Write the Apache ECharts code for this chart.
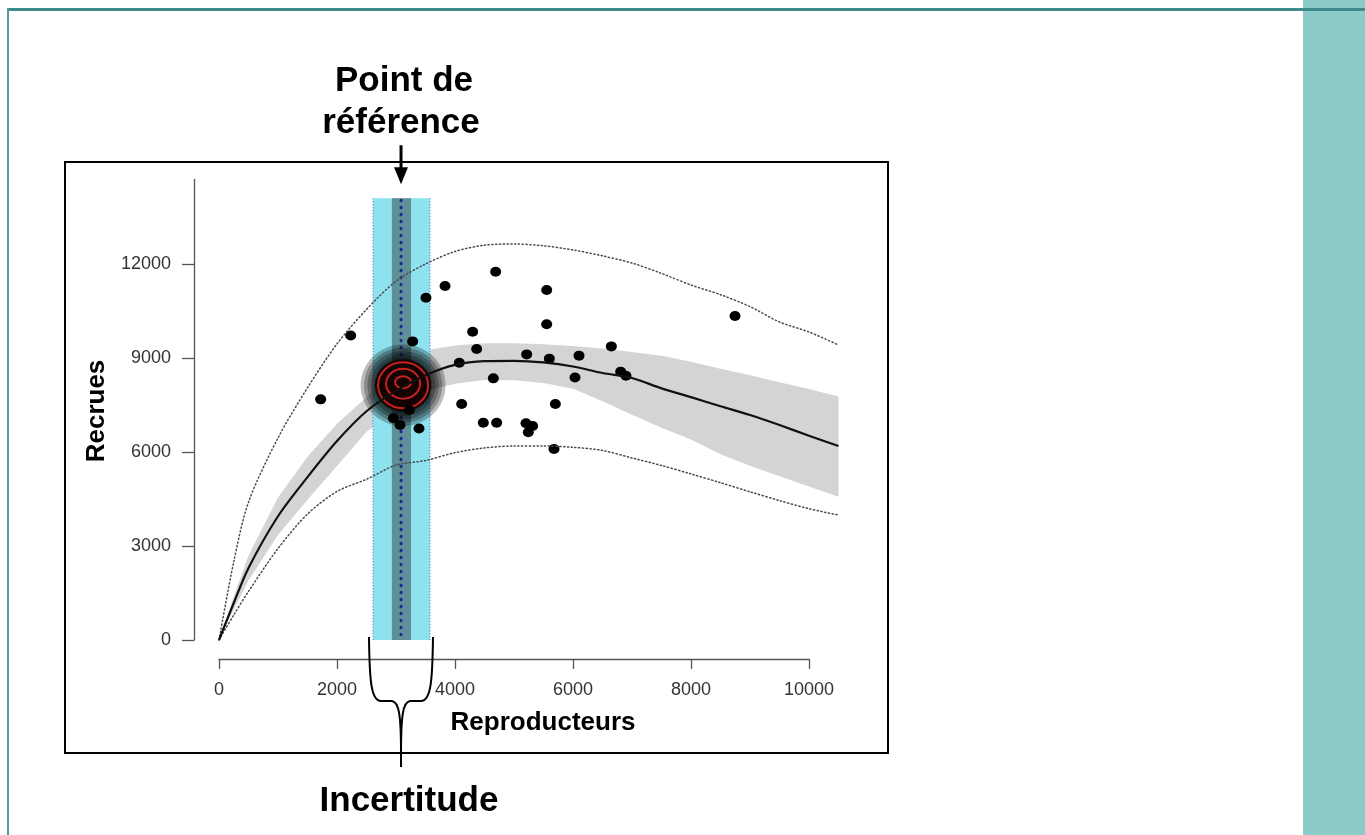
<!DOCTYPE html>
<html>
<head>
<meta charset="utf-8">
<script src="https://cdn.jsdelivr.net/npm/echarts@6/dist/echarts.min.js"></script>
<style>
html,body{margin:0;padding:0;background:#fff;}
#c{width:1365px;height:835px;}
</style>
</head>
<body>
<div id="c"></div>
<script>
// ---------------- data ----------------
const xTicks = [0, 2000, 4000, 6000, 8000, 10000];
const yTicks = [0, 3000, 6000, 9000, 12000];

// Reproducteurs (spawners) grid of the fitted curves
const spawners = [0, 250, 500, 1000, 1500, 2000, 2500, 3000, 3500, 4000, 4500, 5000, 5500, 6000, 6500, 7000, 7500, 8000, 8500, 9000, 9500, 10000, 10500];
// median recruitment curve
const median   = [0, 1180, 2300, 3950, 5200, 6350, 7300, 7950, 8450, 8780, 8900, 8910, 8860, 8730, 8520, 8360, 8030, 7750, 7460, 7180, 6860, 6520, 6190];
// credible interval (grey band)
const ciUpper  = [0, 1380, 2700, 4550, 5850, 6900, 7750, 8600, 9250, 9400, 9470, 9470, 9440, 9380, 9300, 9190, 9070, 8880, 8660, 8450, 8230, 8010, 7770];
const ciLower  = [0, 970, 1900, 3350, 4480, 5550, 6650, 7300, 7950, 8180, 8300, 8290, 8200, 8020, 7620, 7190, 6770, 6400, 5930, 5560, 5230, 4900, 4570];
// predictive interval (dotted lines)
const piUpper  = [0, 2500, 4400, 6450, 8050, 9450, 10550, 11450, 12000, 12400, 12600, 12640, 12580, 12450, 12260, 12030, 11700, 11330, 11020, 10640, 10150, 9830, 9415];
const piLower  = [0, 800, 1550, 2920, 4020, 4740, 5130, 5580, 5730, 5980, 6130, 6190, 6190, 6150, 6050, 5810, 5570, 5300, 5020, 4730, 4450, 4190, 3990];

// observed stock-recruitment pairs
const obsS = [1723, 2232, 2955, 3068, 3225, 3282, 3390, 3508, 3831, 4073, 4113, 4299, 4367, 4480, 4650, 4689, 4706, 5203, 5215, 5243, 5316, 5554, 5554, 5599, 5678, 5701, 6034, 6102, 6650, 6808, 6898, 8746];
const obsR = [7680, 9720, 7075, 6860, 7340, 9530, 6750, 10925, 11300, 8850, 7530, 9840, 9290, 6935, 8350, 11755, 6935, 6915, 9115, 6630, 6830, 11170, 10075, 8980, 6095, 7530, 8375, 9075, 9370, 8565, 8435, 10340];

// reference point and its uncertainty
const refPoint    = 3085;
const uncertainty = [2610, 3576];
const innerRange  = [2930, 3255];
const bandTop     = 14100;

// posterior cloud and contour levels (data units)
const cloudCenter = [3120, 8130];
const cloudRadius = [720, 1300];
const contourRx   = [424, 288, 136];
const contourRy   = [734, 479, 191];

// ---------------- chart ----------------
const FONT = '"Liberation Sans", Arial, Helvetica, sans-serif';
const zip = (a, b) => a.map((v, i) => [v, b[i]]);
const chart = echarts.init(document.getElementById('c'), null, { renderer: 'canvas' });

const axisCol = '#555';

const option = {
  animation: false,
  backgroundColor: '#ffffff',
  grid: [
    { left: 219, top: 179.4, width: 619.5, height: 460.6 },
    { left: 219, top: 179.4, width: 590, height: 460.6 }
  ],
  xAxis: [
    { gridIndex: 0, type: 'value', min: 0, max: 10500, show: false },
    {
      gridIndex: 1, type: 'value', min: 0, max: 10000, interval: 2000, offset: 19, position: 'bottom',
      axisLine: { show: true, onZero: false, lineStyle: { color: axisCol, width: 1.3 } },
      axisTick: { show: true, length: 10, lineStyle: { color: axisCol, width: 1.3 } },
      axisLabel: { margin: 22, fontSize: 18, color: '#333', fontFamily: FONT, customValues: xTicks, formatter: v => String(v) },
      splitLine: { show: false }
    }
  ],
  yAxis: [
    {
      gridIndex: 0, type: 'value', min: 0, max: 14700, offset: 25, position: 'left',
      axisLine: { show: true, onZero: false, lineStyle: { color: axisCol, width: 1.3 } },
      axisTick: { show: true, length: 12, customValues: yTicks, lineStyle: { color: axisCol, width: 1.3 } },
      axisLabel: { margin: 23, fontSize: 18, color: '#333', fontFamily: FONT, customValues: yTicks, formatter: v => String(v) },
      splitLine: { show: false }
    },
    { gridIndex: 1, type: 'value', min: 0, max: 14700, show: false }
  ],
  series: [
    // grey credible band
    {
      type: 'custom', xAxisIndex: 0, yAxisIndex: 0, silent: true, data: [[0, 0]],
      renderItem: (params, api) => {
        const pts = spawners.map((s, i) => api.coord([s, ciUpper[i]]));
        for (let i = spawners.length - 1; i >= 0; i--) pts.push(api.coord([spawners[i], ciLower[i]]));
        return { type: 'polygon', shape: { points: pts }, style: { fill: '#d4d4d4' } };
      }
    },
    // uncertainty bands
    {
      type: 'custom', xAxisIndex: 0, yAxisIndex: 0, silent: true, data: [[0, 0]],
      renderItem: (params, api) => {
        const a = api.coord([uncertainty[0], bandTop]);
        const b = api.coord([uncertainty[1], 0]);
        const c = api.coord([innerRange[0], bandTop]);
        const d = api.coord([innerRange[1], 0]);
        return {
          type: 'group', children: [
            { type: 'rect', shape: { x: a[0], y: a[1], width: b[0] - a[0], height: b[1] - a[1] }, style: { fill: '#8ee2ee' } },
            { type: 'rect', shape: { x: c[0], y: c[1], width: d[0] - c[0], height: d[1] - c[1] }, style: { fill: '#5f8f97' } },
            { type: 'line', shape: { x1: a[0], y1: a[1], x2: a[0], y2: b[1] }, style: { stroke: '#3c6fd4', lineWidth: 1, lineDash: [1, 2] } },
            { type: 'line', shape: { x1: b[0], y1: a[1], x2: b[0], y2: b[1] }, style: { stroke: '#3c6fd4', lineWidth: 1, lineDash: [1, 2] } }
          ]
        };
      }
    },
    // predictive interval, dotted
    {
      type: 'line', xAxisIndex: 0, yAxisIndex: 0, data: zip(spawners, piUpper), showSymbol: false, smooth: 0.3, silent: true,
      lineStyle: { color: '#4a4a4a', width: 1.5, type: [1.2, 2.6], cap: 'round' }
    },
    {
      type: 'line', xAxisIndex: 0, yAxisIndex: 0, data: zip(spawners, piLower), showSymbol: false, smooth: 0.3, silent: true,
      lineStyle: { color: '#4a4a4a', width: 1.5, type: [1.2, 2.6], cap: 'round' }
    },
    // median curve
    {
      type: 'line', xAxisIndex: 0, yAxisIndex: 0, data: zip(spawners, median), showSymbol: false, smooth: 0.3, silent: true,
      lineStyle: { color: '#111', width: 2.2 }
    },
    // reference point dotted line
    {
      type: 'custom', xAxisIndex: 0, yAxisIndex: 0, silent: true, data: [[refPoint, 0]],
      renderItem: (params, api) => {
        const t = api.coord([refPoint, bandTop]);
        const b = api.coord([refPoint, 0]);
        return { type: 'line', shape: { x1: t[0], y1: t[1] + 2, x2: b[0], y2: b[1] }, style: { stroke: '#1b2a8f', lineWidth: 3, lineDash: [0.5, 6.5], lineCap: 'round' } };
      }
    },
    // posterior cloud
    {
      type: 'custom', xAxisIndex: 0, yAxisIndex: 0, silent: true, data: [cloudCenter],
      renderItem: (params, api) => {
        const c = api.coord(cloudCenter);
        const rx = api.size([cloudRadius[0], 0])[0];
        const ry = api.size([0, cloudRadius[1]])[1];
        const ks = [1.0, 0.92, 0.84, 0.76, 0.68, 0.6, 0.52];
        return {
          type: 'group', children: ks.map(k => ({
            type: 'ellipse', shape: { cx: c[0], cy: c[1], rx: rx * k, ry: ry * k },
            style: { fill: 'rgba(0,0,0,0.26)' }
          }))
        };
      }
    },
    // red contours
    {
      type: 'custom', xAxisIndex: 0, yAxisIndex: 0, silent: true, data: [cloudCenter],
      renderItem: (params, api) => {
        const c = api.coord(cloudCenter);
        const children = [];
        const rx0 = api.size([contourRx[0], 0])[0];
        const ry0 = api.size([0, contourRy[0]])[1];
        children.push({ type: 'ellipse', shape: { cx: c[0], cy: c[1], rx: rx0 + 3, ry: ry0 + 3 }, style: { fill: '#140303' } });
        contourRx.forEach((r, i) => {
          const rx = api.size([r, 0])[0];
          const ry = api.size([0, contourRy[i]])[1];
          children.push({ type: 'ellipse', shape: { cx: c[0], cy: c[1] - i * 1.5, rx: rx, ry: ry }, style: { fill: 'none', stroke: '#c82020', lineWidth: 2 } });
        });
        return { type: 'group', children };
      }
    },
    // observed points
    {
      type: 'scatter', xAxisIndex: 0, yAxisIndex: 0, data: zip(obsS, obsR), symbol: 'circle', symbolSize: [11, 10], silent: true,
      itemStyle: { color: '#000', opacity: 1 }
    },
    // annotation: arrow and brace anchored to the reference point and its range
    {
      type: 'custom', xAxisIndex: 0, yAxisIndex: 0, silent: true, clip: false, data: [[refPoint, 0]],
      renderItem: (params, api) => {
        const top = api.coord([refPoint, bandTop]);
        const xm = top[0];
        const y0 = api.coord([refPoint, 0])[1];
        const xl = api.coord([uncertainty[0], 0])[0] - 4;
        const xr = api.coord([uncertainty[1], 0])[0] + 3;
        const yTop = y0 - 3, yArm = y0 + 61, yPt = y0 + 113, yEnd = y0 + 127;
        const left = `M${xl},${yTop} C${xl + 0.5},${y0 + 40} ${xl + 2},${yArm} ${xl + 12},${yArm} L${xm - 9},${yArm} C${xm - 2},${yArm + 1} ${xm},${yArm + 14} ${xm},${yPt} L${xm},${yEnd}`;
        const right = `M${xr},${yTop} C${xr - 0.5},${y0 + 40} ${xr - 2},${yArm} ${xr - 12},${yArm} L${xm + 9},${yArm} C${xm + 2},${yArm + 1} ${xm},${yArm + 14} ${xm},${yPt}`;
        return {
          type: 'group', children: [
            { type: 'path', shape: { pathData: left }, style: { fill: 'none', stroke: '#000', lineWidth: 2 } },
            { type: 'path', shape: { pathData: right }, style: { fill: 'none', stroke: '#000', lineWidth: 2 } },
            { type: 'line', shape: { x1: xm, y1: top[1] - 53, x2: xm, y2: top[1] - 28 }, style: { stroke: '#000', lineWidth: 3 } },
            { type: 'polygon', shape: { points: [[xm - 7, top[1] - 31], [xm + 7, top[1] - 31], [xm, top[1] - 14]] }, style: { fill: '#000' } }
          ]
        };
      }
    }
  ],
  graphic: [
    // slide decoration
    { type: 'rect', shape: { x: 1303, y: 0, width: 62, height: 835 }, style: { fill: '#8dcbc9' }, silent: true },
    { type: 'rect', shape: { x: 7, y: 8, width: 1358, height: 3 }, style: { fill: '#3f8b8c' }, silent: true },
    { type: 'rect', shape: { x: 7, y: 8, width: 2, height: 827 }, style: { fill: '#5a9798' }, silent: true },
    // plot frame
    { type: 'rect', shape: { x: 65, y: 162, width: 823, height: 591 }, style: { fill: 'none', stroke: '#000', lineWidth: 2 }, silent: true },
    // texts
    { type: 'text', x: 404, y: 81, style: { text: 'Point de', font: 'bold 35px ' + FONT, fill: '#000', textAlign: 'center', textVerticalAlign: 'middle', align: 'center', verticalAlign: 'middle' } },
    { type: 'text', x: 401, y: 123, style: { text: 'référence', font: 'bold 35px ' + FONT, fill: '#000', textAlign: 'center', textVerticalAlign: 'middle', align: 'center', verticalAlign: 'middle' } },
    { type: 'text', x: 409, y: 801, style: { text: 'Incertitude', font: 'bold 35px ' + FONT, fill: '#000', textAlign: 'center', textVerticalAlign: 'middle', align: 'center', verticalAlign: 'middle' } },
    { type: 'text', x: 543, y: 723, style: { text: 'Reproducteurs', font: 'bold 26px ' + FONT, fill: '#000', textAlign: 'center', textVerticalAlign: 'middle', align: 'center', verticalAlign: 'middle' } },
    { type: 'text', x: 97, y: 411, rotation: Math.PI / 2, style: { text: 'Recrues', font: 'bold 26px ' + FONT, fill: '#000', textAlign: 'center', textVerticalAlign: 'middle', align: 'center', verticalAlign: 'middle' } }
  ]
};

chart.setOption(option);
</script>
</body>
</html>
